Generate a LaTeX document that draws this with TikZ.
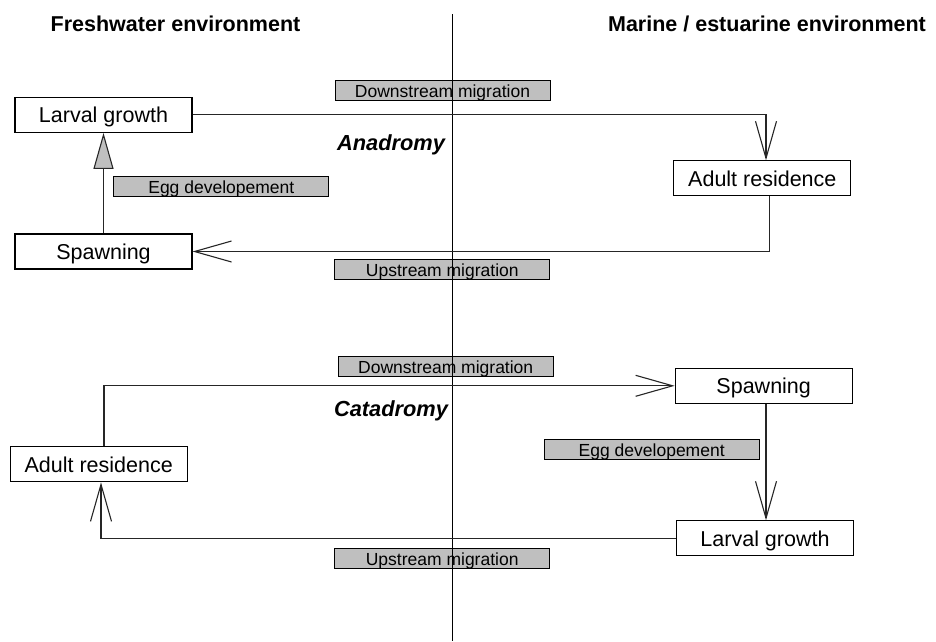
\documentclass[tikz,border=0pt]{standalone}
\usepackage{fontspec}
\setmainfont{Liberation Sans}
\usetikzlibrary{arrows.meta}
\begin{document}
\begin{tikzpicture}[x=1pt,y=-1pt,
  stage/.style={draw=black,line width=1.1pt,fill=white,minimum width=177pt,minimum height=35pt,inner sep=0pt,text height=15.4pt,text depth=0pt,font=\fontsize{21.5}{24}\selectfont},
  tag/.style={draw=black,line width=1pt,fill=black!25,minimum width=215pt,minimum height=20pt,inner sep=0pt,text height=14.4pt,text depth=0pt,font=\fontsize{17.5}{19}\selectfont},
  flow/.style={draw=black!85,line width=1.1pt,-{Straight Barb[length=37pt,width=21pt]}},
  eggflow/.style={draw=black!85,line width=1.1pt,-{Triangle[length=36pt,width=20pt,fill=black!25]}},
  head/.style={anchor=base,font=\fontsize{21.5}{24}\selectfont\bfseries},
  mode/.style={anchor=base,font=\fontsize{21.8}{24}\selectfont\bfseries\itshape}]
\useasboundingbox (0,0) rectangle (936,641);
% labels
\node[tag] (dm1) at (442.5,90.7) {Downstream migration};
\node[tag] (um1) at (442.3,269.2) {Upstream migration};
\node[tag] (eg1) at (221.3,186.2) {Egg developement};
\node[tag] (dm2) at (445.7,366) {Downstream migration};
\node[tag] (eg2) at (651.7,449.2) {Egg developement};
\node[tag] (um2) at (442.2,558.2) {Upstream migration};
% divider
\coordinate (vtop) at (452,14);
\coordinate (vbot) at (452,641);
\draw[line width=0.9pt] (vtop) -- (vbot);
% headers
\node[head] (fw) at (175.5,31.7) {Freshwater environment};
\node[head] (me) at (767,31.7) {Marine / estuarine environment};
\node[mode] (ana) at (391,150.7) {Anadromy};
\node[mode] (cata) at (391,416.7) {Catadromy};
% stages
\node[stage] (lg1) at (103.5,114.8) {Larval growth};
\node[stage] (sp1) at (103.5,251.5) {Spawning};
\node[stage] (ar1) at (762.3,178.3) {Adult residence};
\node[stage] (sp2) at (763.7,385.8) {Spawning};
\node[stage] (lg2) at (765,538.3) {Larval growth};
\node[stage] (ar2) at (98.7,464.3) {Adult residence};
% connectors
\draw[flow] (lg1.east) -| ([xshift=3.7pt]ar1.north);
\draw[flow] ([xshift=7pt]ar1.south) |- (sp1.east);
\draw[eggflow] (sp1.north) -- (lg1.south);
\draw[flow] ([xshift=5.3pt]ar2.north) |- (sp2.west);
\draw[flow] ([xshift=2.3pt]sp2.south) -- ([xshift=1pt]lg2.north);
\draw[flow] (lg2.west) -| ([xshift=2.3pt]ar2.south);
\end{tikzpicture}
\end{document}
